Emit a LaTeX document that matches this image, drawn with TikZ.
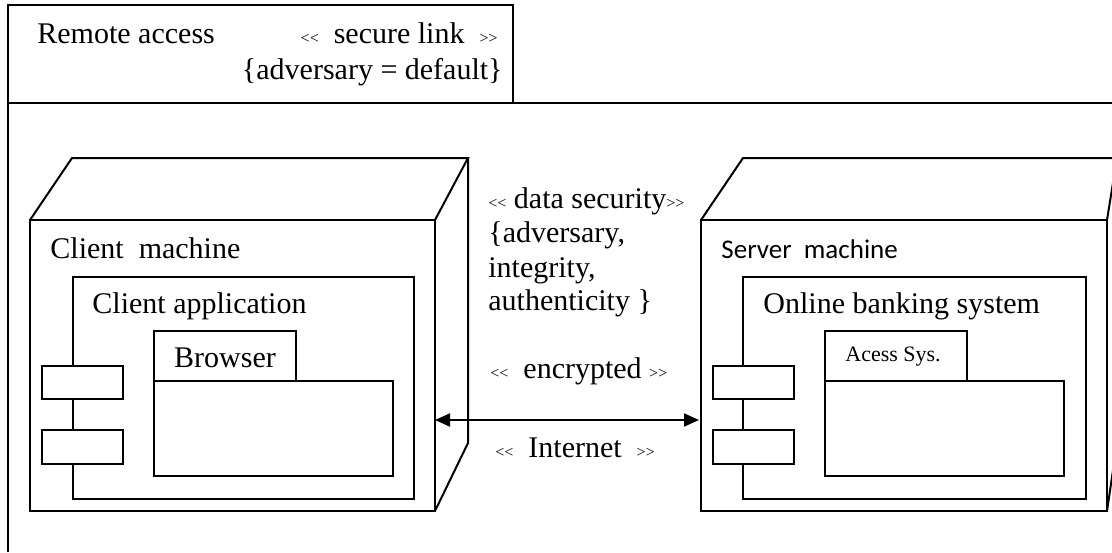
\documentclass[tikz,border=0pt]{standalone}
\usepackage{fontspec}
\setmainfont{Liberation Serif}
\newfontfamily\calibri{Carlito}
\usepackage{tikz}
\usetikzlibrary{arrows.meta}
\newcommand{\openst}{{\fontsize{8}{8}\selectfont<{}<}}
\newcommand{\closest}{{\fontsize{8}{8}\selectfont>{}>}}
\tikzset{
    box/.style={draw, line width=1pt},
    port/.style={draw, fill=white, line width=1pt},
    lbl/.style={anchor=base west, inner sep=0pt, font=\fontsize{15}{17}\selectfont},
    link/.style={line width=1pt, {Triangle[length=7.5pt,width=6.5pt]}-{Triangle[length=7.5pt,width=6.5pt]}}
}

\begin{document}
\begin{tikzpicture}[x=0.5pt, y=-0.5pt]
    \useasboundingbox (0,0) rectangle (1112,552);
    \clip (0,0) rectangle (1112,552);
    % frame
    \draw[box] (8,552) -- (8,5) -- (513,5) -- (513,103);
    \draw[box] (8,103) -- (1112,103);
    \node[lbl] (title) at (37,43) {Remote access};
    \node[lbl, anchor=base east] (stereo) at (498,43) {\openst\ \ secure link\ \ \closest};
    \node[lbl, anchor=base east] (tag) at (503,79) {\{adversary = default\}};
    % client machine
    \draw[box] (30,220) rectangle (435,511);
    \draw[box] (30,220) -- (72,158) -- (468,158) -- (435,220);
    \draw[box] (468,158) -- (468,443) -- (435,511);
    \node[lbl] (clientname) at (50,258) {Client\ \ machine};
    \draw[box] (73,277) rectangle (414,499);
    \node[lbl] (clientapp) at (92,313) {Client application};
    \draw[port] (42,366) rectangle (123,399);
    \draw[port] (42,430) rectangle (123,464);
    \draw[box] (154,331) rectangle (296,381);
    \draw[box] (154,381) rectangle (393,476);
    \node[lbl, anchor=base] (browser) at (225,367) {Browser};
    % server machine
    \draw[box] (701,220) rectangle (1107,511);
    \draw[box] (701,220) -- (743,158) -- (1117,158) -- (1107,220);
    \draw[box] (1117,158) -- (1117,443) -- (1107,511);
    \node[lbl, font=\calibri\fontsize{13.5}{16}\selectfont] (servername) at (721,258) {Server\ \ machine};
    \draw[box] (743,277) rectangle (1086,499);
    \node[lbl] (bankapp) at (763,313) {Online banking system};
    \draw[port] (713,366) rectangle (794,399);
    \draw[port] (713,430) rectangle (794,464);
    \draw[box] (825,331) rectangle (967,381);
    \draw[box] (825,381) rectangle (1064,476);
    \node[lbl, font=\fontsize{11}{13}\selectfont] (access) at (845,361) {Acess Sys.};
    % connection
    \node[lbl] (sec1) at (488,208) {\openst\ data security\closest};
    \node[lbl] (sec2) at (488,242) {\{adversary,};
    \node[lbl] (sec3) at (488,277) {integrity,};
    \node[lbl] (sec4) at (488,310) {authenticity \}};
    \node[lbl] (enc) at (490,378) {\openst\ \ encrypted \closest};
    \node[lbl] (net) at (495,457) {\openst\ \ Internet\ \ \closest};
    \coordinate (clientside) at (435,420);
    \coordinate (serverside) at (699,420);
    \draw[link] (clientside) -- (serverside);
\end{tikzpicture}
\end{document}
